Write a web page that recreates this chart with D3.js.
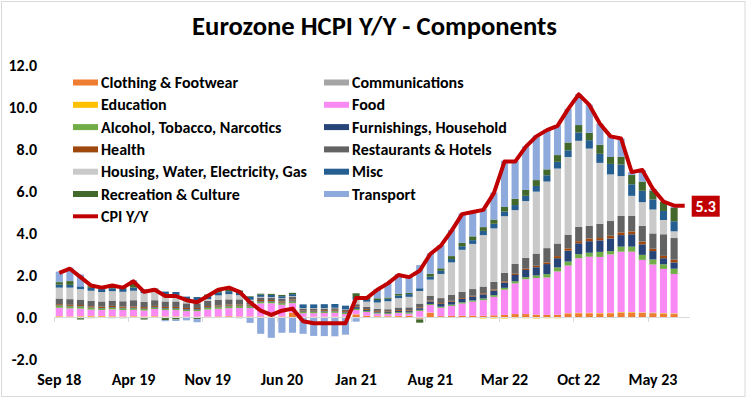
<!DOCTYPE html>
<html>
<head>
<meta charset="utf-8">
<script src="https://cdn.jsdelivr.net/npm/d3@7"></script>
<style>
  html, body { margin: 0; padding: 0; background: #fff; }
  svg { display: block; font-family: Carlito, Lato, "Open Sans", sans-serif; }
</style>
</head>
<body>
<svg id="chart" width="747" height="399"></svg>
<script>
// months Sep 18 .. Aug 23 (line), bars stop at Jul 23
const months = d3.timeMonth.range(new Date(2018, 8, 1), new Date(2023, 8, 1)).map(d3.timeFormat('%b %y'));
const tickLabels = ['Sep 18', 'Apr 19', 'Nov 19', 'Jun 20', 'Jan 21', 'Aug 21', 'Mar 22', 'Oct 22', 'May 23'];
const yTicks = [-2, 0, 2, 4, 6, 8, 10, 12];

const clothing = [
  0.02, 0.01, 0.02, 0.03, 0.03, 0.02, 0.01, 0.02, 0.01, 0.02, 0.01, 0.01,
  0.01, 0.01, 0.01, 0.02, 0.03, 0.02, 0.02, 0.02, 0.02, 0.02, 0.20, 0.00,
  0.01, 0.01, 0.01, 0.01, 0.12, 0.05, 0.03, 0.03, 0.04, 0.05, -0.08, 0.20,
  0.04, 0.05, 0.06, 0.07, 0.06, 0.08, 0.10, 0.14, 0.14, 0.11, 0.10, 0.11,
  0.17, 0.18, 0.18, 0.17, 0.18, 0.21, 0.21, 0.19, 0.18, 0.16, 0.14
];
const communications = [
  -0.05, -0.05, -0.06, -0.06, -0.05, -0.06, -0.06, -0.05, -0.06, -0.05, -0.05, -0.04,
  -0.04, -0.05, -0.05, -0.04, -0.04, -0.04, -0.03, -0.02, -0.02, -0.02, -0.03, -0.03,
  -0.03, -0.03, -0.03, -0.03, -0.06, -0.05, -0.05, -0.04, -0.04, -0.04, -0.04, -0.03,
  -0.03, -0.03, -0.03, -0.03, -0.04, -0.04, -0.04, -0.03, -0.03, -0.04, -0.03, -0.03,
  -0.01, -0.01, -0.01, -0.01, 0.00, 0.01, 0.01, 0.01, 0.01, 0.01, 0.02
];
const education = [
  0.02, 0.02, 0.02, 0.02, 0.02, 0.02, 0.02, 0.02, 0.02, 0.02, 0.02, 0.02,
  0.01, 0.01, 0.01, 0.01, 0.01, 0.01, 0.01, 0.01, 0.01, 0.01, 0.01, 0.01,
  0.01, 0.01, 0.01, 0.01, 0.01, 0.01, 0.01, 0.01, 0.01, 0.01, 0.01, 0.01,
  0.00, -0.01, -0.01, -0.01, -0.03, -0.03, -0.03, -0.03, -0.03, -0.03, -0.03, -0.03,
  0.01, 0.02, 0.02, 0.02, 0.02, 0.02, 0.02, 0.02, 0.02, 0.02, 0.02
];
const food = [
  0.40, 0.38, 0.36, 0.30, 0.28, 0.32, 0.30, 0.30, 0.28, 0.34, 0.30, 0.30,
  0.26, 0.26, 0.34, 0.36, 0.38, 0.40, 0.40, 0.62, 0.62, 0.55, 0.45, 0.17,
  0.16, 0.17, 0.18, 0.12, 0.20, 0.18, 0.12, 0.10, 0.14, 0.10, 0.28, 0.36,
  0.40, 0.48, 0.58, 0.66, 0.74, 0.88, 1.20, 1.46, 1.66, 1.75, 1.78, 2.06,
  2.27, 2.60, 2.67, 2.67, 2.78, 2.87, 2.87, 2.50, 2.29, 2.10, 1.87
];
const alcohol = [
  0.10, 0.10, 0.10, 0.09, 0.08, 0.08, 0.08, 0.07, 0.07, 0.07, 0.07, 0.07,
  0.07, 0.07, 0.08, 0.08, 0.09, 0.09, 0.08, 0.08, 0.08, 0.08, 0.08, 0.07,
  0.07, 0.07, 0.07, 0.07, 0.06, 0.05, 0.05, 0.05, 0.05, 0.06, 0.05, 0.05,
  0.05, 0.06, 0.06, 0.06, 0.08, 0.08, 0.09, 0.10, 0.10, 0.12, 0.16, 0.19,
  0.19, 0.19, 0.19, 0.24, 0.16, 0.24, 0.24, 0.24, 0.24, 0.22, 0.25
];
const furnishings = [
  0.02, 0.02, 0.02, 0.02, 0.02, 0.03, 0.03, 0.03, 0.03, 0.03, 0.03, 0.03,
  0.03, 0.03, 0.03, 0.03, 0.03, 0.03, 0.03, 0.03, 0.03, 0.03, 0.05, 0.03,
  0.03, 0.03, 0.03, 0.03, 0.08, 0.05, 0.04, 0.04, 0.05, 0.06, 0.08, 0.12,
  0.13, 0.14, 0.16, 0.18, 0.20, 0.22, 0.25, 0.30, 0.34, 0.39, 0.48, 0.44,
  0.52, 0.52, 0.55, 0.55, 0.60, 0.55, 0.59, 0.50, 0.40, 0.29, 0.30
];
const health = [
  0.05, 0.05, 0.05, 0.05, 0.06, 0.06, 0.06, 0.06, 0.06, 0.05, 0.05, 0.05,
  0.05, 0.05, 0.05, 0.05, 0.05, 0.05, 0.05, 0.05, 0.05, 0.05, 0.05, 0.04,
  0.04, 0.04, 0.04, 0.04, 0.04, 0.04, 0.04, 0.04, 0.04, 0.04, 0.04, 0.04,
  0.04, 0.04, 0.04, 0.04, 0.05, 0.05, 0.06, 0.06, 0.06, 0.07, 0.08, 0.10,
  0.11, 0.10, 0.13, 0.11, 0.13, 0.13, 0.13, 0.13, 0.11, 0.11, 0.13
];
const restaurants = [
  0.27, 0.27, 0.26, 0.26, 0.25, 0.25, 0.25, 0.30, 0.25, 0.27, 0.26, 0.26,
  0.22, 0.22, 0.25, 0.26, 0.25, 0.24, 0.18, 0.12, 0.12, 0.12, 0.12, 0.08,
  0.08, 0.08, 0.08, 0.06, 0.10, 0.10, 0.10, 0.10, 0.12, 0.14, 0.18, 0.22,
  0.24, 0.28, 0.30, 0.32, 0.32, 0.36, 0.40, 0.48, 0.52, 0.58, 0.68, 0.60,
  0.65, 0.68, 0.60, 0.68, 0.70, 0.78, 0.75, 0.75, 0.73, 1.03, 1.03
];
const housing = [
  0.52, 0.55, 0.50, 0.48, 0.45, 0.45, 0.45, 0.45, 0.42, 0.40, 0.33, 0.31,
  0.18, 0.16, 0.08, 0.22, 0.25, 0.20, 0.05, 0.03, 0.02, 0.03, 0.03, 0.02,
  0.02, 0.02, 0.02, 0.02, 0.22, 0.25, 0.30, 0.38, 0.45, 0.50, 0.60, 0.78,
  1.15, 1.55, 2.00, 2.15, 2.45, 2.55, 2.70, 2.55, 2.70, 2.95, 3.17, 3.57,
  3.70, 4.10, 3.68, 2.90, 2.22, 1.90, 0.95, 1.13, 1.14, 0.68, 0.32
];
const misc = [
  0.14, 0.13, 0.13, 0.14, 0.14, 0.14, 0.14, 0.15, 0.14, 0.14, 0.14, 0.14,
  0.14, 0.14, 0.14, 0.15, 0.14, 0.14, 0.14, 0.10, 0.10, 0.10, 0.10, 0.18,
  0.18, 0.18, 0.18, 0.18, 0.12, 0.12, 0.12, 0.12, 0.12, 0.13, 0.13, 0.14,
  0.15, 0.16, 0.17, 0.18, 0.20, 0.22, 0.22, 0.24, 0.25, 0.27, 0.30, 0.32,
  0.32, 0.40, 0.40, 0.43, 0.50, 0.55, 0.55, 0.54, 0.48, 0.43, 0.48
];
const recreation = [
  0.12, 0.18, -0.06, 0.08, 0.06, 0.08, 0.05, 0.22, -0.06, 0.02, -0.10, -0.08,
  0.00, -0.05, 0.08, 0.10, 0.08, 0.08, 0.03, 0.05, 0.05, 0.06, 0.06, 0.00,
  0.00, 0.00, 0.00, 0.00, 0.18, 0.10, 0.08, 0.06, 0.08, 0.06, -0.15, 0.14,
  0.12, 0.14, 0.16, 0.18, 0.18, 0.20, 0.22, 0.30, 0.28, 0.28, 0.28, 0.32,
  0.37, 0.35, 0.35, 0.43, 0.33, 0.37, 0.44, 0.44, 0.40, 0.44, 0.63
];
const transport = [
  0.50, 0.64, 0.56, 0.09, 0.06, 0.11, 0.07, 0.13, 0.05, 0.00, -0.05, -0.07,
  -0.12, -0.15, 0.00, 0.06, 0.13, -0.02, -0.25, -0.78, -0.97, -0.73, -0.72, -0.77,
  -0.87, -0.88, -0.89, -0.81, -0.16, 0.00, 0.45, 0.70, 0.95, 0.80, 1.10, 0.97,
  1.10, 1.25, 1.40, 1.19, 0.86, 1.29, 2.20, 1.80, 2.08, 2.12, 1.90, 1.42,
  1.60, 1.47, 1.34, 1.01, 0.98, 0.87, 0.14, 0.55, 0.10, 0.00, 0.05
];
const cpi = [
  2.1, 2.3, 1.9, 1.5, 1.4, 1.5, 1.4, 1.7, 1.2, 1.3, 1.0, 1.0,
  0.8, 0.7, 1.0, 1.3, 1.4, 1.2, 0.7, 0.3, 0.1, 0.3, 0.4, -0.2,
  -0.3, -0.3, -0.3, -0.3, 0.9, 0.9, 1.3, 1.6, 2.0, 1.9, 2.2, 3.0,
  3.4, 4.1, 4.9, 5.0, 5.1, 5.9, 7.4, 7.4, 8.1, 8.6, 8.9, 9.1,
  9.9, 10.6, 10.1, 9.2, 8.6, 8.5, 6.9, 7.0, 6.1, 5.5, 5.3, 5.3
];

// series in Excel order (also legend order, row by row)
const keys = [
  'Clothing & Footwear', 'Communications', 'Education', 'Food',
  'Alcohol, Tobacco, Narcotics', 'Furnishings, Household', 'Health', 'Restaurants & Hotels',
  'Housing, Water, Electricity, Gas', 'Misc', 'Recreation & Culture', 'Transport'
];
const values = [clothing, communications, education, food, alcohol, furnishings, health,
  restaurants, housing, misc, recreation, transport];
const colors = ['#ED7D31', '#A5A5A5', '#FFC000', '#F98AF4', '#70AD47', '#264478', '#9E480E',
  '#636363', '#C9C9C9', '#255E91', '#43682B', '#8EA9DB'];
const lineColor = '#C00000';

const W = 747, H = 399;
const svg = d3.select('#chart');

svg.append('rect')
  .attr('x', 1.5).attr('y', 1.5).attr('width', W - 3.5).attr('height', H - 4)
  .attr('fill', '#fff').attr('stroke', '#D9D9D9');

// fits a text's font size so it spans a target width
function fitSize(str, target, base = 13) {
  const t = svg.append('text').attr('font-size', base).attr('font-weight', 700).text(str);
  const w = t.node().getComputedTextLength();
  t.remove();
  return base * target / w;
}

const titleSize = fitSize('Eurozone HCPI Y/Y - Components', 365, 22);
const legendSize = fitSize('Housing, Water, Electricity, Gas', 206);
const tickSize = fitSize('Sep 18', 44);

svg.append('text')
  .attr('x', 374.5).attr('y', 35)
  .attr('text-anchor', 'middle')
  .attr('font-size', titleSize).attr('font-weight', 700).attr('fill', '#000')
  .text('Eurozone HCPI Y/Y - Components');

const x = d3.scaleBand().domain(months).range([54, 690]).paddingInner(0.33).paddingOuter(0.165);
const y = d3.scaleLinear().domain([-2, 12]).range([359, 65]);
const step = x.step();
const cx = (m) => x(m) + x.bandwidth() / 2;

// y labels
svg.append('g')
  .selectAll('text')
  .data(yTicks)
  .join('text')
  .attr('x', 37).attr('y', (d) => y(d))
  .attr('dy', '0.35em')
  .attr('text-anchor', 'end')
  .attr('font-size', tickSize).attr('font-weight', 700).attr('fill', '#000')
  .text((d) => d.toFixed(1));

// stacked bars
const rows = months.slice(0, clothing.length).map((m, i) => {
  const r = { month: m };
  keys.forEach((k, j) => { r[k] = values[j][i]; });
  return r;
});
const stacked = d3.stack().keys(keys).offset(d3.stackOffsetDiverging)(rows);

svg.append('g')
  .selectAll('g')
  .data(stacked)
  .join('g')
  .attr('fill', (d, i) => colors[i])
  .selectAll('rect')
  .data((d) => d)
  .join('rect')
  .attr('x', (d) => x(d.data.month))
  .attr('y', (d) => y(Math.max(d[0], d[1])))
  .attr('width', x.bandwidth())
  .attr('height', (d) => Math.abs(y(d[0]) - y(d[1])));

// category axis
const axis = svg.append('g').attr('stroke', '#D9D9D9').attr('stroke-width', 1);
axis.append('line')
  .attr('x1', 54).attr('x2', 690)
  .attr('y1', y(0) + 0.5).attr('y2', y(0) + 0.5);
axis.selectAll('line.tick')
  .data(months.filter((m, i) => i % 7 === 0))
  .join('line')
  .attr('class', 'tick')
  .attr('x1', (m) => Math.round(x(m) - (step - x.bandwidth()) / 2) + 0.5)
  .attr('x2', (m) => Math.round(x(m) - (step - x.bandwidth()) / 2) + 0.5)
  .attr('y1', y(0)).attr('y2', y(0) + 5);

svg.append('g')
  .selectAll('text')
  .data(tickLabels)
  .join('text')
  .attr('x', (d) => cx(d)).attr('y', 385)
  .attr('text-anchor', 'middle')
  .attr('font-size', tickSize).attr('font-weight', 700).attr('fill', '#000')
  .text((d) => d);

// CPI line
const line = d3.line().x((d, i) => cx(months[i])).y((d) => y(d));
svg.append('path')
  .datum(cpi)
  .attr('d', line)
  .attr('fill', 'none')
  .attr('stroke', lineColor)
  .attr('stroke-width', 4)
  .attr('stroke-linejoin', 'round');

// last value label
const lastX = cx(months[cpi.length - 1]);
const lastY = y(cpi[cpi.length - 1]);
svg.append('rect')
  .attr('x', lastX + 7).attr('y', lastY - 10)
  .attr('width', 28).attr('height', 21)
  .attr('fill', lineColor);
svg.append('text')
  .attr('x', lastX + 21).attr('y', lastY + 0.5)
  .attr('dy', '0.35em')
  .attr('text-anchor', 'middle')
  .attr('font-size', tickSize).attr('font-weight', 700).attr('fill', '#fff')
  .text(cpi[cpi.length - 1].toFixed(1));

// legend, two columns row by row, CPI last
const legendItems = keys.map((k, i) => ({ name: k, color: colors[i], type: 'bar' }))
  .concat([{ name: 'CPI Y/Y', color: lineColor, type: 'line' }]);
const legend = svg.append('g')
  .selectAll('g')
  .data(legendItems)
  .join('g')
  .attr('transform', (d, i) => `translate(${i % 2 ? 324 : 73},${82.5 + Math.floor(i / 2) * 22.3})`);

legend.filter((d) => d.type === 'bar').append('rect')
  .attr('x', 0).attr('y', -3).attr('width', 25).attr('height', 6)
  .attr('fill', (d) => d.color);
legend.filter((d) => d.type === 'line').append('line')
  .attr('x1', 0).attr('x2', 25).attr('y1', 0).attr('y2', 0)
  .attr('stroke', (d) => d.color).attr('stroke-width', 4);
legend.append('text')
  .attr('x', 28).attr('y', 0).attr('dy', '0.35em')
  .attr('font-size', legendSize).attr('font-weight', 700).attr('fill', '#000')
  .text((d) => d.name);
</script>
</body>
</html>
